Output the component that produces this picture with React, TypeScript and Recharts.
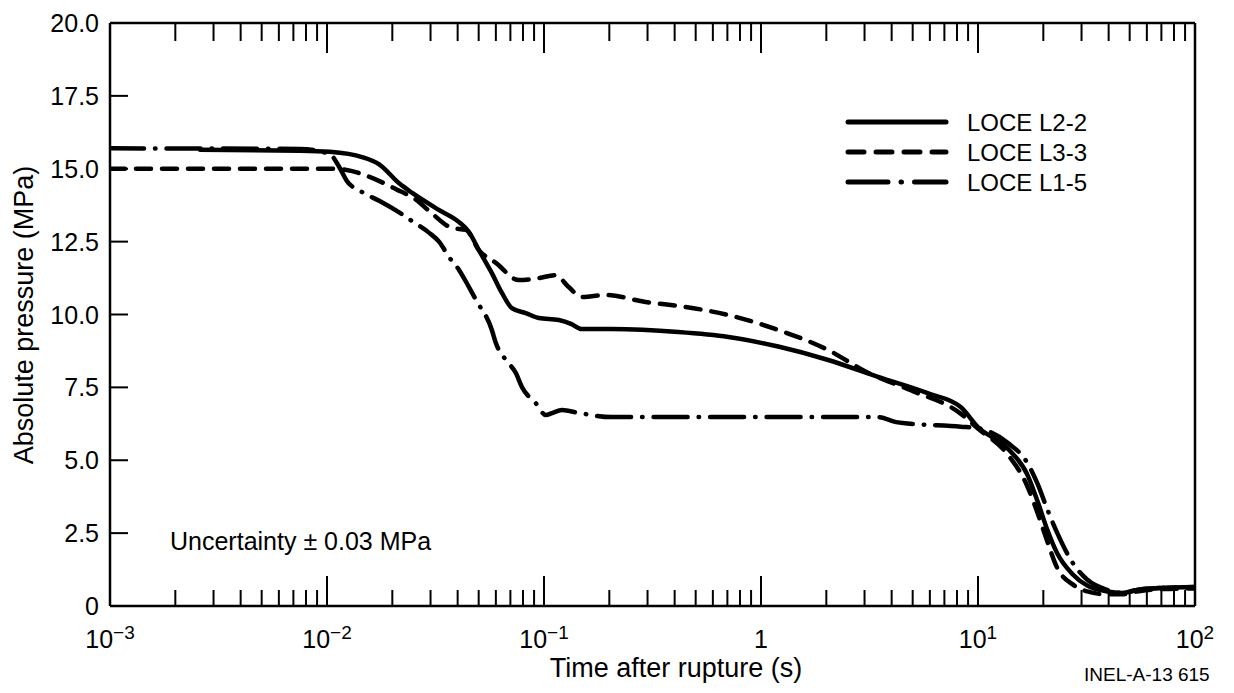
import { LineChart, Line, XAxis, YAxis, Legend } from 'recharts';

// LOCE L2-2 (solid)
const l22Time = [0.0026, 0.0075, 0.0103, 0.0145, 0.0174, 0.0215, 0.0247, 0.0329, 0.0406, 0.0451, 0.0501, 0.0575, 0.064, 0.0711, 0.0824, 0.0946, 0.117, 0.134, 0.149, 0.205, 0.416, 0.707, 1.2, 2.04, 3.46, 5.86, 8.32, 9.96, 13.7, 16.9, 18.8, 20.9, 23.2, 27.2, 31.9, 39.4, 46.2, 54.1, 70.5, 100];
const l22Pressure = [15.65, 15.62, 15.58, 15.4, 15.15, 14.5, 14.17, 13.58, 13.17, 12.83, 12.21, 11.42, 10.74, 10.22, 10.05, 9.88, 9.81, 9.67, 9.5, 9.5, 9.4, 9.23, 8.9, 8.44, 7.86, 7.3, 6.83, 6.15, 5.4, 4.5, 3.6, 2.6, 1.8, 1.1, 0.7, 0.5, 0.45, 0.55, 0.62, 0.65];

// LOCE L3-3 (dashed)
const l33Time = [0.001, 0.0103, 0.0123, 0.0157, 0.0208, 0.0258, 0.0296, 0.0377, 0.0437, 0.0501, 0.06, 0.0766, 0.0946, 0.113, 0.13, 0.149, 0.192, 0.294, 0.449, 0.707, 1.2, 2.04, 3.11, 4.9, 8.32, 9.96, 13.7, 16.9, 18.8, 20.9, 23.2, 27.2, 31.9, 39.4, 46.2, 54.1, 70.5, 100];
const l33Pressure = [15.0, 15.0, 14.96, 14.72, 14.3, 13.93, 13.55, 12.97, 12.9, 12.21, 11.77, 11.18, 11.25, 11.35, 10.94, 10.6, 10.67, 10.43, 10.26, 9.98, 9.47, 8.78, 8.0, 7.4, 6.6, 6.1, 5.2, 4.1, 3.2, 2.2, 1.3, 0.75, 0.5, 0.4, 0.4, 0.5, 0.58, 0.6];

// LOCE L1-5 (dash-dot)
const l15Time = [0.001, 0.0075, 0.0103, 0.0114, 0.0123, 0.0145, 0.0174, 0.0215, 0.0247, 0.0296, 0.0329, 0.0365, 0.0406, 0.0451, 0.0486, 0.0575, 0.06, 0.0667, 0.0742, 0.0791, 0.0916, 0.102, 0.109, 0.121, 0.145, 0.205, 0.416, 3.46, 4.27, 8.32, 9.96, 13.7, 16.9, 18.8, 20.9, 23.2, 27.2, 31.9, 39.4, 46.2, 54.1, 70.5, 100];
const l15Pressure = [15.7, 15.68, 15.5, 15.05, 14.6, 14.2, 13.9, 13.5, 13.2, 12.8, 12.49, 11.97, 11.53, 10.94, 10.5, 9.47, 9.02, 8.44, 7.99, 7.51, 6.96, 6.55, 6.62, 6.72, 6.62, 6.48, 6.48, 6.48, 6.3, 6.15, 6.1, 5.6, 4.9, 4.2, 3.3, 2.5, 1.5, 0.9, 0.55, 0.45, 0.55, 0.62, 0.65];

const decades = [0.001, 0.01, 0.1, 1, 10, 100];
const minorSteps = [2, 3, 4, 5, 6, 7, 8, 9];
const yTicks = [0, 2.5, 5, 7.5, 10, 12.5, 15, 17.5, 20];

const xTicks: number[] = [];
decades.forEach((d, i) => {
  xTicks.push(d);
  if (i < decades.length - 1) minorSteps.forEach((m) => xTicks.push(+(d * m).toPrecision(3)));
});

const toPoints = (ts: number[], ps: number[]) => ts.map((t, i) => ({ t, p: ps[i] }));

const series = [
  { name: 'LOCE L2-2', data: toPoints(l22Time, l22Pressure), dash: undefined as string | undefined, legendDash: undefined as string | undefined },
  { name: 'LOCE L3-3', data: toPoints(l33Time, l33Pressure), dash: '15 11', legendDash: '16 12' },
  { name: 'LOCE L1-5', data: toPoints(l15Time, l15Pressure), dash: '34 11 0.5 11', legendDash: '40 13 0.5 13' },
];

const FONT = '"Liberation Sans", Arial, Helvetica, sans-serif';

const isDecade = (v: number) => Math.abs(Math.log10(v) - Math.round(Math.log10(v))) < 1e-6;

const BottomTick = (props: any) => {
  const { x, y, payload } = props;
  const v = payload.value;
  const major = isDecade(v);
  const e = Math.round(Math.log10(v));
  return (
    <g>
      <line x1={x} y1={y} x2={x} y2={y - (major ? 30 : 16)} stroke="#000" strokeWidth={2} />
      {major && (
        <text x={x} y={y + 42} textAnchor="middle" fontSize={25} fill="#000" fontFamily={FONT}>
          {e === 0 ? '1' : '10'}
          {e !== 0 && <tspan dy={-9} fontSize={19}>{e < 0 ? `\u2212${-e}` : e}</tspan>}
        </text>
      )}
    </g>
  );
};

const TopTick = (props: any) => {
  const { x, y, payload } = props;
  const major = isDecade(payload.value);
  return <line x1={x} y1={y} x2={x} y2={y + (major ? 30 : 18)} stroke="#000" strokeWidth={2} />;
};

const LeftTick = (props: any) => {
  const { x, y, payload } = props;
  const v = payload.value;
  return (
    <g>
      <line x1={x} y1={y} x2={x + 18} y2={y} stroke="#000" strokeWidth={2} />
      <text x={x - 11} y={y + 9} textAnchor="end" fontSize={25} fill="#000" fontFamily={FONT}>
        {v === 0 ? '0' : v.toFixed(1)}
      </text>
    </g>
  );
};

const RightTick = (props: any) => {
  const { x, y } = props;
  return <line x1={x} y1={y} x2={x - 18} y2={y} stroke="#000" strokeWidth={2} />;
};

const LegendBox = () => (
  <svg width={300} height={92} style={{ overflow: 'visible' }}>
    {series.map((s, i) => (
      <g key={s.name}>
        <line x1={3} x2={101} y1={15 + i * 30} y2={15 + i * 30} stroke="#000" strokeWidth={5} strokeDasharray={s.legendDash} strokeLinecap="round" />
        <text x={122} y={15 + i * 30 + 8.5} fontSize={24} fill="#000" fontFamily={FONT}>{s.name}</text>
      </g>
    ))}
  </svg>
);

export default function App() {
  const axisLine = { stroke: '#000', strokeWidth: 2.5 };
  return (
    <div style={{ position: 'relative', width: 1218, height: 677, fontFamily: FONT, background: '#fff' }}>
      <LineChart width={1218} height={677} margin={{ top: 0, right: 0, bottom: 0, left: 22 }}>
        <XAxis
          dataKey="t" type="number" scale="log" domain={[0.001, 100]} allowDataOverflow
          ticks={xTicks} interval={0} tick={<BottomTick />} tickLine={false} tickSize={0} tickMargin={0}
          axisLine={axisLine} height={79}
        />
        <XAxis
          xAxisId="top" orientation="top" dataKey="t" type="number" scale="log" domain={[0.001, 100]} allowDataOverflow
          ticks={xTicks} interval={0} tick={<TopTick />} tickLine={false} tickSize={0} tickMargin={0}
          axisLine={axisLine} height={15}
        />
        <YAxis
          type="number" domain={[0, 20]} ticks={yTicks} interval={0} tick={<LeftTick />}
          tickLine={false} tickSize={0} tickMargin={0} axisLine={axisLine} width={80}
        />
        <YAxis
          yAxisId="right" orientation="right" type="number" domain={[0, 20]} ticks={yTicks} interval={0}
          tick={<RightTick />} tickLine={false} tickSize={0} tickMargin={0} axisLine={axisLine} width={31}
        />
        <Legend
          layout="vertical" align="center" verticalAlign="middle" content={<LegendBox />}
          wrapperStyle={{ left: 837, top: 99, width: 300, height: 92 }}
        />
        {series.map((s) => (
          <Line
            key={s.name} data={s.data} dataKey="p" name={s.name} type="monotone"
            stroke="#000" strokeWidth={4.5} strokeDasharray={s.dash} strokeLinecap="round"
            dot={false} activeDot={false} isAnimationActive={false}
          />
        ))}
      </LineChart>
      <svg width={1218} height={685} style={{ position: 'absolute', left: 0, top: 0, overflow: 'visible', pointerEvents: 'none' }}>
        <text x={25} y={307} transform="rotate(-90 25 307)" textAnchor="middle" fontSize={27} fill="#000" fontFamily={FONT}>
          Absolute pressure (MPa)
        </text>
        <text x={668} y={669} textAnchor="middle" fontSize={27} fill="#000" fontFamily={FONT}>
          Time after rupture (s)
        </text>
        <text x={1076} y={673} fontSize={19} fill="#000" fontFamily={FONT}>
          INEL-A-13 615
        </text>
        <text x={162} y={542} fontSize={25} fill="#000" fontFamily={FONT}>
          Uncertainty  ±  0.03 MPa
        </text>
      </svg>
    </div>
  );
}
